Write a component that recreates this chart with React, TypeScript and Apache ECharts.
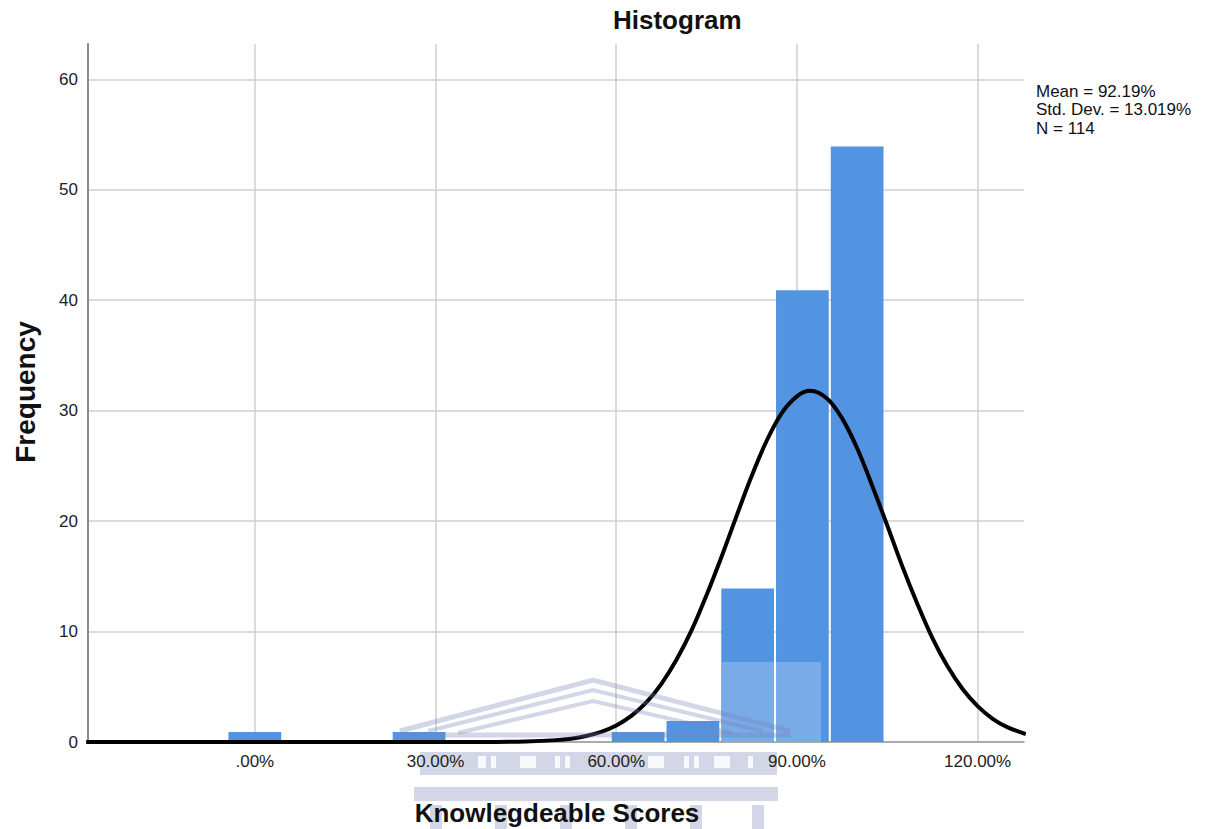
import React, { useEffect, useRef } from "react";
import * as echarts from "echarts";

// Histogram bins (score %, centre of bin) and their frequencies
const binCenters = [0, 27.27, 63.64, 72.73, 81.82, 90.91, 100];
const frequencies = [1, 1, 1, 2, 14, 41, 54];
const binWidth = 9.09;

// Fitted normal curve
const curveX = [-28, 30, 40, 45, 50, 52.5, 55, 57.5, 60, 62.5, 65, 67.5, 70, 72.5, 75, 77.5, 80, 82.5, 85, 87.5, 90, 92.19, 95, 97.5, 100, 102.5, 105, 107.5, 110, 112.5, 115, 117.5, 120, 122.5, 125, 128];
const curveY = [0, 0, 0.01, 0.05, 0.17, 0.3, 0.54, 0.91, 1.49, 2.36, 3.58, 5.27, 7.44, 10.1, 13.3, 16.8, 20.5, 24.1, 27.3, 29.8, 31.3, 31.8, 31.1, 29.3, 26.6, 23.2, 19.6, 15.9, 12.5, 9.4, 6.85, 4.8, 3.25, 2.1, 1.33, 0.72];

const xTicks = [0, 30, 60, 90, 120];
const xTickLabels = [".00%", "30.00%", "60.00%", "90.00%", "120.00%"];
const yTicks = [0, 10, 20, 30, 40, 50, 60];

const statsLines = ["Mean = 92.19%", "Std. Dev. = 13.019%", "N = 114"];

const FONT = "'Liberation Sans', Arial, sans-serif";

export default function App() {
  const ref = useRef<HTMLDivElement>(null);

  useEffect(() => {
    if (!ref.current) return;
    const chart = echarts.init(ref.current, undefined, { renderer: "svg" });

    const barData = binCenters.map((c, i) => [c - binWidth / 2, c + binWidth / 2, frequencies[i]]);
    const curveData = curveX.map((x, i) => [x, curveY[i]]);

    const wm = "rgba(120,130,180,0.33)";
    const white = "rgba(255,255,255,0.85)";

    const slots = [
      [478, 8], [491, 5], [520, 16], [555, 5], [565, 5], [648, 16], [684, 5], [694, 5], [714, 16], [748, 5],
    ];

    const lowerWatermark: any[] = [
      { type: "rect", shape: { x: 420, y: 752, width: 357, height: 20 }, style: { fill: wm } },
      ...slots.map(([sx, sw]) => ({
        type: "rect",
        shape: { x: sx, y: 756, width: sw, height: 12 },
        style: { fill: white },
      })),
      { type: "rect", shape: { x: 420, y: 772, width: 357, height: 3 }, style: { fill: wm } },
      { type: "rect", shape: { x: 414, y: 787, width: 364, height: 14 }, style: { fill: wm } },
      ...[430, 495, 560, 625, 690, 752].map((cx) => ({
        type: "rect",
        shape: { x: cx, y: 805, width: 12, height: 24 },
        style: { fill: wm },
      })),
    ].map((e) => ({ ...e, z: 0, silent: true }));

    const upperWatermark: any[] = [
      { type: "rect", shape: { x: 722, y: 662, width: 99, height: 80 }, style: { fill: "rgba(255,255,255,0.22)" } },
      { type: "polyline", shape: { points: [[400, 731], [593, 680], [790, 731]] }, style: { stroke: wm, lineWidth: 5, fill: "none" } },
      { type: "polyline", shape: { points: [[428, 731], [593, 690], [762, 731]] }, style: { stroke: wm, lineWidth: 4, fill: "none" } },
      { type: "polyline", shape: { points: [[458, 733], [593, 701], [732, 733]] }, style: { stroke: wm, lineWidth: 4, fill: "none" } },
      { type: "line", shape: { x1: 400, y1: 735, x2: 790, y2: 735 }, style: { stroke: wm, lineWidth: 5 } },
    ].map((e) => ({ ...e, z: 100, silent: true }));

    const option: any = {
      animation: false,
      backgroundColor: "#ffffff",
      grid: { left: 88, right: 185, top: 44, bottom: 87, containLabel: false },
      xAxis: {
        type: "value",
        min: -27.7,
        max: 127.7,
        z: 1,
        axisLine: { show: true, onZero: false, lineStyle: { color: "#9a9a9a", width: 1.5 } },
        axisTick: { show: false, customValues: xTicks },
        axisLabel: {
          customValues: xTicks,
          formatter: (v: number) => {
            const i = xTicks.indexOf(Math.round(v));
            return i >= 0 ? xTickLabels[i] : "";
          },
          fontFamily: FONT,
          fontSize: 17,
          color: "#222",
          margin: 11,
        },
        splitLine: { show: true, lineStyle: { color: "#cfcfcf", width: 1.5 } },
      },
      yAxis: {
        type: "value",
        min: 0,
        max: 63.2,
        z: 1,
        axisLine: { show: true, onZero: false, lineStyle: { color: "#8a8a8a", width: 2 } },
        axisTick: { show: false, customValues: yTicks },
        axisLabel: {
          customValues: yTicks,
          fontFamily: FONT,
          fontSize: 17,
          color: "#222",
          margin: 10,
        },
        splitLine: { show: true, lineStyle: { color: "#cfcfcf", width: 1.5 } },
      },
      series: [
        {
          type: "custom",
          z: 2,
          data: barData,
          renderItem: (params: any, api: any) => {
            const lo = api.value(0);
            const hi = api.value(1);
            const v = api.value(2);
            const p0 = api.coord([lo, v]);
            const p1 = api.coord([hi, 0]);
            return {
              type: "rect",
              shape: { x: p0[0] + 1, y: p0[1] + 1, width: p1[0] - p0[0] - 2, height: p1[1] - p0[1] - 1 },
              style: { fill: "#5294e2" },
            };
          },
        },
        {
          type: "line",
          z: 3,
          data: curveData,
          smooth: 0.35,
          symbol: "none",
          lineStyle: { color: "#000", width: 4 },
          clip: true,
        },
      ],
      graphic: [
        ...lowerWatermark,
        ...upperWatermark,
        {
          type: "text",
          z: 120,
          left: 613,
          top: 7,
          style: { text: "Histogram", font: `bold 26px ${FONT}`, fill: "#111" },
        },
        {
          type: "text",
          z: 120,
          x: 25,
          y: 392,
          rotation: Math.PI / 2,
          style: { text: "Frequency", font: `bold 28px ${FONT}`, fill: "#111", align: "center", verticalAlign: "middle" },
        },
        {
          type: "text",
          z: 120,
          x: 557,
          y: 813,
          style: { text: "Knowlegdeable Scores", font: `bold 26px ${FONT}`, fill: "#111", align: "center", verticalAlign: "middle" },
        },
        ...statsLines.map((t, i) => ({
          type: "text",
          z: 120,
          x: 1036,
          y: 91 + i * 18.5,
          style: { text: t, font: `17px ${FONT}`, fill: "#111", verticalAlign: "middle" },
        })),
      ],
    };

    chart.setOption(option);
    return () => chart.dispose();
  }, []);

  return (
    <div
      ref={ref}
      style={{ position: "fixed", left: 0, top: 0, width: 1209, height: 829, background: "#fff" }}
    />
  );
}
